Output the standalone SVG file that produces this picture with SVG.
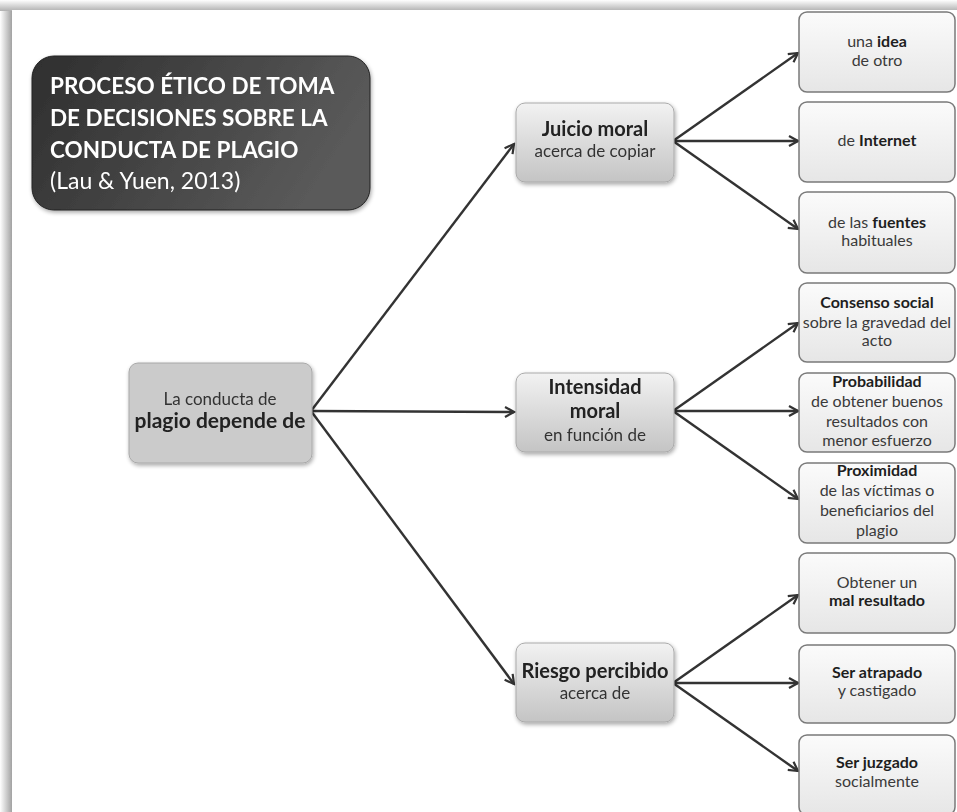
<svg xmlns="http://www.w3.org/2000/svg" width="957" height="812" viewBox="0 0 957 812">
<defs>
<linearGradient id="gTitle" x1="0" y1="0" x2="1" y2="0.3">
<stop offset="0" stop-color="#2e2e2e"/><stop offset="1" stop-color="#5a5a5a"/>
</linearGradient>
<linearGradient id="gMid" x1="0" y1="0" x2="0" y2="1">
<stop offset="0" stop-color="#f2f2f2"/><stop offset="1" stop-color="#c4c4c4"/>
</linearGradient>
<linearGradient id="gLeaf" x1="0" y1="0" x2="0" y2="1">
<stop offset="0" stop-color="#fbfbfb"/><stop offset="1" stop-color="#e6e6e6"/>
</linearGradient>
<linearGradient id="gShadowL" x1="0" y1="0" x2="1" y2="0">
<stop offset="0" stop-color="#ffffff"/><stop offset="1" stop-color="#9a9a9a"/>
</linearGradient>
<linearGradient id="gShadowT" x1="0" y1="0" x2="0" y2="1">
<stop offset="0" stop-color="#ffffff"/><stop offset="1" stop-color="#b0b0b0"/>
</linearGradient>
<marker id="arr" viewBox="0 0 12 12" refX="10" refY="6" markerWidth="12" markerHeight="12" markerUnits="userSpaceOnUse" orient="auto">
<path d="M1,1 L10,6 L1,11" fill="none" stroke="#333" stroke-width="2.2"/>
</marker>
<filter id="sh" x="-10%" y="-10%" width="125%" height="130%">
<feGaussianBlur in="SourceAlpha" stdDeviation="2"/><feOffset dx="1" dy="2"/>
<feComponentTransfer><feFuncA type="linear" slope="0.35"/></feComponentTransfer>
<feMerge><feMergeNode/><feMergeNode in="SourceGraphic"/></feMerge>
</filter>
</defs>
<style>
text{font-family:Lato,"Open Sans","Liberation Sans",sans-serif;text-anchor:middle;fill:#222}
.t{fill:#fff;text-anchor:start;font-size:22.5px;font-weight:bold}
.tn{font-weight:normal;font-size:23px}
.b{font-weight:bold}
.leaf{fill:url(#gLeaf);stroke:#7a7a7a;stroke-width:1.5}
.mid{fill:url(#gMid);stroke:#aaa;stroke-width:1}
.lt{font-size:16px;fill:#3a3a3a}
.lt.b{fill:#1e1e1e}
.mt{font-size:20px}
.ms{font-size:17px;fill:#333}
.c line{stroke:#333;stroke-width:2.4;marker-end:url(#arr)}
</style>
<rect width="957" height="812" fill="#fff"/>
<rect x="0" y="10" width="13" height="802" fill="url(#gShadowL)"/>
<rect x="0" y="0" width="957" height="11" fill="url(#gShadowT)"/>
<rect x="12" y="10" width="945" height="802" fill="#fff"/>

<g id="title" filter="url(#sh)">
<rect x="32" y="56" width="338" height="154" rx="22" fill="url(#gTitle)" stroke="#222" stroke-width="1"/>
<text class="t" x="50" y="94">PROCESO ÉTICO DE TOMA</text>
<text class="t" x="50" y="126">DE DECISIONES SOBRE LA</text>
<text class="t" x="50" y="158">CONDUCTA DE PLAGIO</text>
<text class="t tn" x="50" y="189">(Lau &amp; Yuen, 2013)</text>
</g>

<g class="c" id="connectors">
<line x1="311" y1="411" x2="514" y2="144"/>
<line x1="311" y1="411" x2="514" y2="412"/>
<line x1="311" y1="411" x2="514" y2="684"/>
<line x1="673" y1="141" x2="798" y2="53"/>
<line x1="673" y1="141" x2="798" y2="141"/>
<line x1="673" y1="141" x2="798" y2="229"/>
<line x1="673" y1="411" x2="798" y2="323"/>
<line x1="673" y1="411" x2="798" y2="411"/>
<line x1="673" y1="411" x2="798" y2="499"/>
<line x1="673" y1="683" x2="798" y2="595"/>
<line x1="673" y1="683" x2="798" y2="683"/>
<line x1="673" y1="683" x2="798" y2="771"/>
</g>

<g id="root" filter="url(#sh)">
<rect x="129" y="363" width="183" height="100" rx="9" fill="#cbcbcb" stroke="#a8a8a8" stroke-width="1"/>
<text class="ms" x="220" y="405">La conducta de</text>
<text class="b" x="220" y="428" font-size="21px">plagio depende de</text>
</g>

<g id="juicio" filter="url(#sh)">
<rect class="mid" x="516" y="103" width="158" height="79" rx="9"/>
<text class="b mt" x="595" y="136">Juicio moral</text>
<text class="ms" x="595" y="157">acerca de copiar</text>
</g>
<g id="intensidad" filter="url(#sh)">
<rect class="mid" x="516" y="373" width="158" height="79" rx="9"/>
<text class="b mt" x="595" y="394">Intensidad</text>
<text class="b mt" x="595" y="418">moral</text>
<text class="ms" x="595" y="441">en función de</text>
</g>
<g id="riesgo" filter="url(#sh)">
<rect class="mid" x="516" y="643" width="158" height="79" rx="9"/>
<text class="b mt" x="595" y="678">Riesgo percibido</text>
<text class="ms" x="595" y="699">acerca de</text>
</g>

<g id="leaf1"><rect class="leaf" x="799" y="12" width="156" height="80" rx="8"/>
<text class="lt" x="877" y="47">una <tspan class="b" fill="#1e1e1e">idea</tspan></text>
<text class="lt" x="877" y="66">de otro</text></g>
<g id="leaf2"><rect class="leaf" x="799" y="102" width="156" height="80" rx="8"/>
<text class="lt" x="877" y="146">de <tspan class="b" fill="#1e1e1e">Internet</tspan></text></g>
<g id="leaf3"><rect class="leaf" x="799" y="192" width="156" height="81" rx="8"/>
<text class="lt" x="877" y="228">de las <tspan class="b" fill="#1e1e1e">fuentes</tspan></text>
<text class="lt" x="877" y="246">habituales</text></g>

<g id="leaf4"><rect class="leaf" x="799" y="283" width="156" height="79" rx="8"/>
<text class="lt b" x="877" y="308">Consenso social</text>
<text class="lt" x="877" y="328">sobre la gravedad del</text>
<text class="lt" x="877" y="346">acto</text></g>
<g id="leaf5"><rect class="leaf" x="799" y="373" width="156" height="79" rx="8"/>
<text class="lt b" x="877" y="387">Probabilidad</text>
<text class="lt" x="877" y="407">de obtener buenos</text>
<text class="lt" x="877" y="427">resultados con</text>
<text class="lt" x="877" y="446">menor esfuerzo</text></g>
<g id="leaf6"><rect class="leaf" x="799" y="463" width="156" height="80" rx="8"/>
<text class="lt b" x="877" y="476">Proximidad</text>
<text class="lt" x="877" y="496">de las víctimas o</text>
<text class="lt" x="877" y="516">beneficiarios del</text>
<text class="lt" x="877" y="536">plagio</text></g>

<g id="leaf7"><rect class="leaf" x="799" y="553" width="156" height="80" rx="8"/>
<text class="lt" x="877" y="588">Obtener un</text>
<text class="lt b" x="877" y="606">mal resultado</text></g>
<g id="leaf8"><rect class="leaf" x="799" y="645" width="156" height="78" rx="8"/>
<text class="lt b" x="877" y="678">Ser atrapado</text>
<text class="lt" x="877" y="696">y castigado</text></g>
<g id="leaf9"><rect class="leaf" x="799" y="735" width="156" height="80" rx="8"/>
<text class="lt b" x="877" y="768">Ser juzgado</text>
<text class="lt" x="877" y="787">socialmente</text></g>
</svg>
